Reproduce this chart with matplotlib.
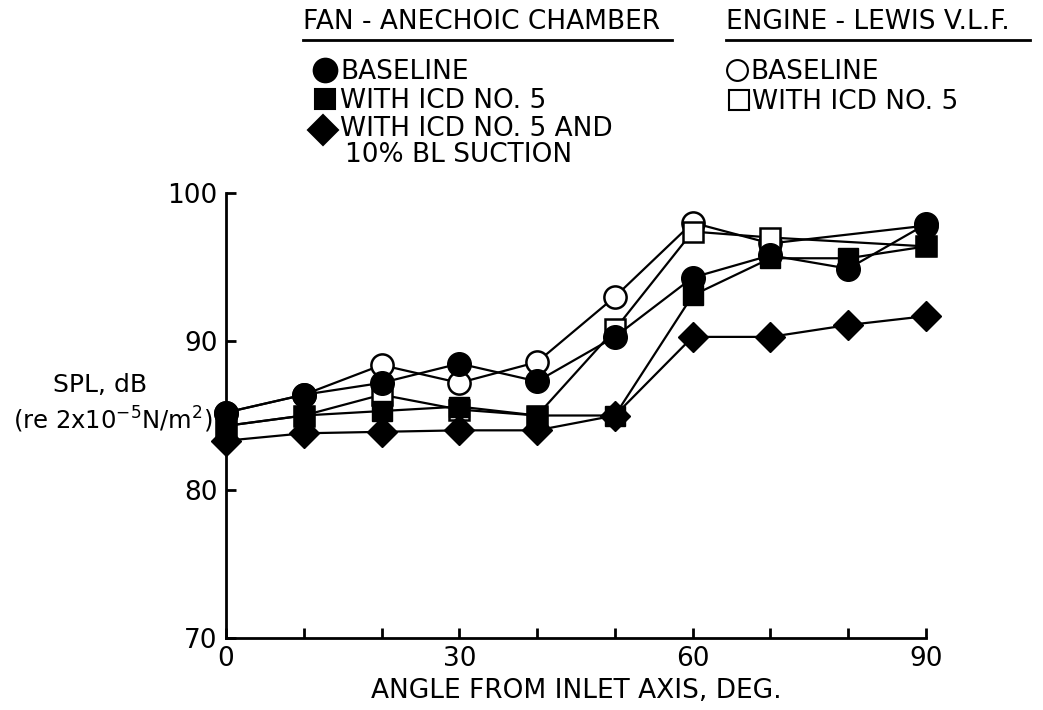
import matplotlib
matplotlib.use('Agg')
import matplotlib.pyplot as plt
from matplotlib.lines import Line2D

# angles, deg
fan_angle = [0, 10, 20, 30, 40, 50, 60, 70, 80, 90]
eng_angle = [0, 10, 20, 30, 40, 50, 60, 70, 90]

# fan - anechoic chamber
fan_base = [85.2, 86.4, 87.2, 88.5, 87.3, 90.3, 94.3, 95.8, 94.9, 97.9]
fan_icd = [84.3, 85.0, 85.3, 85.6, 85.0, 85.0, 93.1, 95.6, 95.6, 96.4]
fan_icd_bl = [83.3, 83.8, 83.9, 84.0, 84.0, 85.0, 90.3, 90.3, 91.1, 91.7]

# engine - lewis vlf
eng_base = [85.2, 86.4, 88.4, 87.2, 88.6, 93.0, 98.0, 96.6, 97.8]
eng_icd = [84.3, 85.0, 86.4, 85.4, 85.0, 90.8, 97.4, 97.0, 96.4]

yticks = [70, 80, 90, 100]
xticks = [0, 10, 20, 30, 40, 50, 60, 70, 80, 90]
xticklabels = ['0', '', '', '30', '', '', '60', '', '', '90']

W, H = 1043, 710
narrow = ['Liberation Sans Narrow', 'DejaVu Sans']

fig = plt.figure(figsize=(W / 100, H / 100), dpi=100)
ax = fig.add_axes([226 / W, 1 - 638 / H, 700 / W, 445 / H])

lw = 1.6
ax.plot(eng_angle, eng_base, color='k', lw=lw, marker='o', ms=16,
        mfc='white', mec='k', mew=1.8, clip_on=False, zorder=3)
ax.plot(eng_angle, eng_icd, color='k', lw=lw, marker='s', ms=15,
        mfc='white', mec='k', mew=1.8, clip_on=False, zorder=3)
ax.plot(fan_angle, fan_base, color='k', lw=lw, marker='o', ms=17,
        mfc='k', mec='k', clip_on=False, zorder=4)
ax.plot(fan_angle, fan_icd, color='k', lw=lw, marker='s', ms=15,
        mfc='k', mec='k', clip_on=False, zorder=4)
ax.plot(fan_angle, fan_icd_bl, color='k', lw=lw, marker='D', ms=15,
        mfc='k', mec='k', clip_on=False, zorder=4)

ax.set_xlim(0, 90)
ax.set_ylim(70, 100)
ax.spines['top'].set_visible(False)
ax.spines['right'].set_visible(False)
ax.spines['left'].set_linewidth(2)
ax.spines['bottom'].set_linewidth(2)
ax.set_xticks(xticks)
ax.set_xticklabels(xticklabels)
ax.set_yticks(yticks)
ax.tick_params(direction='in', length=7, width=2, labelsize=19, pad=6)
ax.set_xlabel('ANGLE FROM INLET AXIS, DEG.', family=narrow, fontsize=19,
              labelpad=4)

fig.text(100 / W, 1 - 385 / H, 'SPL, dB', fontsize=18, ha='center', va='center')
fig.text(113 / W, 1 - 420 / H, r'(re 2x10$^{-5}$N/m$^2$)', fontsize=17.5,
         ha='center', va='center')


def fy(py):
    return 1 - py / H


# legend block
fig.text(303 / W, fy(22), 'FAN - ANECHOIC CHAMBER', family=narrow,
         fontsize=19, va='center')
fig.text(726 / W, fy(22), 'ENGINE - LEWIS V.L.F.', family=narrow,
         fontsize=19, va='center')
for x0, x1 in [(303, 672), (726, 1030)]:
    fig.add_artist(Line2D([x0 / W, x1 / W], [fy(40), fy(40)], color='k', lw=2))

markers = [
    (325, 70, 'o', 'k', 17),
    (325, 99, 's', 'k', 15),
    (323, 130, 'D', 'k', 15),
    (737, 70, 'o', 'white', 15),
    (739, 100, 's', 'white', 14),
]
for mx, my, m, fc, ms in markers:
    fig.add_artist(Line2D([mx / W], [fy(my)], marker=m, ms=ms, mfc=fc,
                          mec='k', mew=1.5, ls='none'))

labels = [
    (340, 70, 'BASELINE'),
    (340, 99, 'WITH ICD NO. 5'),
    (340, 127, 'WITH ICD NO. 5 AND'),
    (345, 153, '10% BL SUCTION'),
    (750, 70, 'BASELINE'),
    (752, 100, 'WITH ICD NO. 5'),
]
for tx, ty, label in labels:
    fig.text(tx / W, fy(ty + 9), label, family=narrow, fontsize=19,
             va='baseline')

fig.savefig('out.png', dpi=100)
